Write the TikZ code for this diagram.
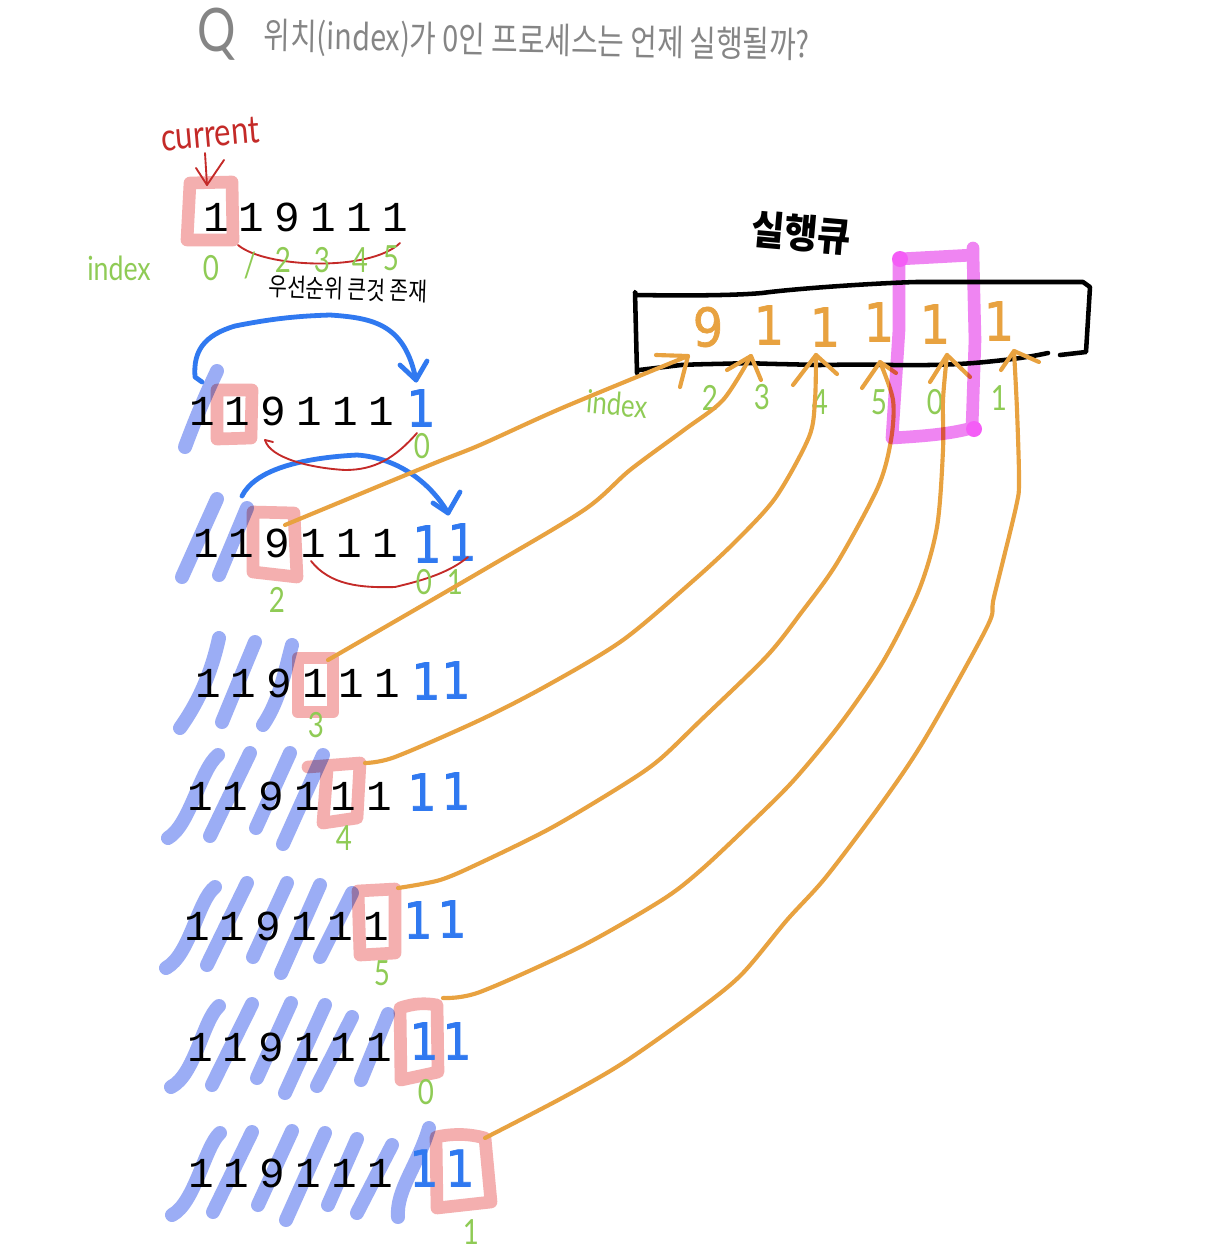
\documentclass[tikz,border=0pt]{standalone}
\usepackage{fontspec}
\setmainfont{Liberation Sans}
\newfontfamily\krf{Noto Sans CJK KR}[FakeStretch=0.8]
\newfontfamily\krb{Noto Sans CJK KR}[FakeStretch=0.9]
\newfontfamily\monof{Liberation Mono}
\newfontfamily\handf{DejaVu Sans}[FakeBold=1.2,FakeStretch=0.9]
\newfontfamily\thinf{Lato}[FakeStretch=0.8]
\definecolor{cstroke}{HTML}{9BADF5}
\definecolor{cbox}{HTML}{F4AFAF}
\definecolor{corange}{HTML}{E8A240}
\definecolor{cblue}{HTML}{3079F0}
\definecolor{cgreen}{HTML}{8FCB55}
\definecolor{cred}{HTML}{C42A28}
\definecolor{cmag}{HTML}{EF85F2}
\definecolor{cgray}{HTML}{858585}
\tikzset{
  blk/.style={font=\monof\fontsize{32}{32}\selectfont,text=black,inner sep=0pt},
  blu/.style={font=\handf\fontsize{38}{38}\selectfont,text=cblue,inner sep=0pt},
  org/.style={font=\handf\fontsize{40}{40}\selectfont,text=corange,inner sep=0pt},
  grn/.style={font=\thinf\fontsize{26}{26}\selectfont,text=cgreen,inner sep=0pt},
  grnw/.style={font=\thinf\fontsize{25}{25}\selectfont,text=cgreen,inner sep=0pt},
  slash/.style={draw=cstroke,line width=10.5pt,line cap=round,line join=round},
  hbox/.style={draw=cbox,line width=9.5pt,line cap=round,line join=round},
  qline/.style={draw=black,line width=3.4pt,line cap=round,line join=round},
  magline/.style={draw=cmag,line width=9.5pt,line cap=round,line join=round},
  oline/.style={draw=corange,line width=3.1pt,line cap=round,line join=round},
  bline/.style={draw=cblue,line width=3.6pt,line cap=round,line join=round},
  rline/.style={draw=cred,line width=1.4pt,line cap=round,line join=round},
}
\newcommand{\digitrow}[3]{%
  \foreach \d [count=\i from 0] in {1,1,9,1,1,1}{%
    \node[blk] (#1d\i) at ({#2+\i*35.8},#3) {\d};
  }%
}
\begin{document}
\begin{tikzpicture}[x=0.75pt,y=-0.75pt]
\path[use as bounding box,fill=white] (0,0) rectangle (1215,1258);

% connector end points
\coordinate (s2) at (285,525);
\coordinate (s3) at (328,660);
\coordinate (s4) at (365,763);
\coordinate (s5) at (398,888);
\coordinate (s6) at (443,998);
\coordinate (s7) at (485,1138);
\coordinate (t2) at (688,356);
\coordinate (t3) at (751,356);
\coordinate (t4) at (816,355);
\coordinate (t5) at (880,362);
\coordinate (t0) at (947,355);
\coordinate (t1) at (1014,351);

\begin{scope}[blend mode=multiply]
% crossed-out strokes
\draw[slash] (185,447) .. controls (198,412) and (208,390) .. (217,371);
\draw[slash] (182,577) -- (217,499);
\draw[slash] (219,575) -- (247,508);
\draw[slash] (180,728) .. controls (200,700) and (212,670) .. (219,638);
\draw[slash] (222,722) -- (255,642);
\draw[slash] (263,725) .. controls (280,700) and (285,670) .. (292,645);
\draw[slash] (168,838) .. controls (190,825) and (200,770) .. (218,755);
\draw[slash] (210,836) -- (250,753);
\draw[slash] (256,828) -- (290,753);
\draw[slash] (283,844) -- (323,755);
\draw[slash] (166,968) .. controls (190,955) and (198,900) .. (215,887);
\draw[slash] (207,965) -- (247,883);
\draw[slash] (253,957) -- (287,883);
\draw[slash] (281,973) -- (320,885);
\draw[slash] (320,957) -- (352,893);
\draw[slash] (171,1087) .. controls (195,1075) and (203,1020) .. (219,1006);
\draw[slash] (212,1085) -- (252,1004);
\draw[slash] (257,1078) -- (291,1003);
\draw[slash] (285,1093) -- (325,1005);
\draw[slash] (317,1086) -- (352,1017);
\draw[slash] (361,1080) -- (388,1014);
\draw[slash] (172,1215) .. controls (195,1203) and (205,1146) .. (220,1133);
\draw[slash] (213,1212) -- (252,1132);
\draw[slash] (258,1205) -- (292,1131);
\draw[slash] (286,1220) -- (325,1133);
\draw[slash] (328,1205) -- (357,1139);
\draw[slash] (357,1213) -- (392,1145);
\draw[slash] (398,1217) .. controls (396,1190) and (418,1165) .. (429,1128);
% highlight boxes
\draw[hbox] (190,183) -- (232,182) -- (233,240) -- (187,240) -- cycle;
\draw[hbox] (217,390) -- (252,390) -- (251,438) -- (217,439) -- cycle;
\draw[hbox] (253,512) -- (294,513) -- (297,577) -- (253,572) -- cycle;
\draw[hbox] (298,658) -- (333,658) -- (333,712) -- (298,712) -- cycle;
\draw[hbox] (308,767) -- (360,763) -- (357,818) -- (323,823) -- (327,770);
\draw[hbox] (358,891) -- (395,889) -- (395,953) -- (360,955) -- cycle;
\draw[hbox] (400,1008) .. controls (415,1003) and (425,1003) .. (437,1005) -- (438,1072) -- (401,1080) -- cycle;
\draw[hbox] (436,1137) .. controls (455,1133) and (470,1134) .. (485,1138) -- (491,1202) -- (437,1208) -- cycle;
\end{scope}

% process rows
\digitrow{ra}{216}{217}
\digitrow{rb}{202}{411}
\digitrow{rc}{206}{543}
\digitrow{rd}{208}{683}
\digitrow{re}{200}{796}
\digitrow{rf}{197}{926}
\digitrow{rg}{200}{1047}
\digitrow{rh}{201}{1173}

% moved processes
\node[blu] (rbb0) at (421,408) {1};
\node[blu] (rcb0) at (427,544) {1};
\node[blu] (rcb1) at (462,542) {1};
\node[blu] (rdb0) at (426,681) {1};
\node[blu] (rdb1) at (456,680) {1};
\node[blu] (reb0) at (422,792) {1};
\node[blu] (reb1) at (456,791) {1};
\node[blu] (rfb0) at (418,920) {1};
\node[blu] (rfb1) at (452,919) {1};
\node[blu] (rgb0) at (424,1041) {1};
\node[blu] (rgb1) at (457,1041) {1};
\node[blu] (rhb0) at (424,1168) {1};
\node[blu] (rhb1) at (460,1168) {1};

% blue arcs
\draw[bline] (202,382) -- (195,377) .. controls (193,350) and (205,335) .. (235,326) .. controls (275,318) and (300,316) .. (330,315) .. controls (375,318) and (405,325) .. (416,380);
\draw[bline] (400,365) -- (416,380) -- (427,361);
\draw[bline] (242,496) .. controls (255,470) and (300,458) .. (357,455) .. controls (400,458) and (432,485) .. (448,513);
\draw[bline] (433,503) -- (448,513) -- (460,492);

% red curves
\draw[rline] (238,245) .. controls (265,268) and (370,272) .. (400,243);
\draw[rline] (417,433) .. controls (395,458) and (375,470) .. (345,470) .. controls (310,468) and (270,458) .. (265,440);
\draw[rline] (265,440) -- (273,442);
\draw[rline] (311,561) .. controls (330,585) and (360,588) .. (395,587) .. controls (425,580) and (450,572) .. (468,557);
\node[font=\thinf\fontsize{29}{29}\selectfont,text=cred,inner sep=0pt,rotate=5] (cur) at (210,134) {current};
\draw[rline] (205,153) -- (207,185);
\draw[rline] (196,168) -- (207,185) -- (224,160);

% green labels, first row
\node[grnw] (idxa) at (119,268) {index};
\node[grn] (la0) at (211,268) {0};
\node[grn] (la1) at (250,266) {/};
\node[grn] (la2) at (283,260) {2};
\node[grn] (la3) at (322,260) {3};
\node[grn] (la4) at (360,260) {4};
\node[grn] (la5) at (391,258) {5};
\node[font=\krf\fontsize{19}{19}\selectfont,text=black,inner sep=0pt,rotate=-2] (prio) at (348,289) {우선순위 큰것 존재};
% green labels, other rows
\node[grn] (lb0) at (422,446) {0};
\node[grn] (lc2) at (277,600) {2};
\node[grn] (lc0) at (424,582) {0};
\node[grn] (lc1) at (455,582) {1};
\node[grn] (ld3) at (316,725) {3};
\node[grn] (le4) at (344,838) {4};
\node[grn] (lf5) at (382,973) {5};
\node[grn] (lg0) at (426,1092) {0};
\node[grn] (lh1) at (471,1232) {1};

% title texts
\node[font=\thinf\fontsize{45}{45}\selectfont,text=cgray,inner sep=0pt] (q) at (217,34) {Q};
\node[font=\krf\fontsize{27}{27}\selectfont,text=cgray,inner sep=0pt,rotate=-1] (ttl) at (537,42) {위치(index)가 0인 프로세스는 언제 실행될까?};
\node[font=\krb\bfseries\fontsize{30}{30}\selectfont,text=black,inner sep=0pt,rotate=-5] (qname) at (801,233) {실행큐};

% queue box
\draw[qline] (637,373) -- (635,292) -- (636,295) .. controls (700,296) and (740,295) .. (762,293) .. controls (800,288) and (880,283) .. (916,282) -- (1083,282) -- (1090,287) -- (1086,352) -- (1060,355);
\draw[qline] (1048,353) .. controls (1025,358) and (1005,360) .. (985,362) .. controls (945,366) and (905,365) .. (891,365) .. controls (855,364) and (835,365) .. (816,365) .. controls (785,364) and (765,364) .. (749,363) .. controls (722,364) and (700,364) .. (681,365) -- (639,370);

% queue contents
\node[org] (q9) at (708,327) {9};
\node[org] (q1a) at (769,325) {1};
\node[org] (q1b) at (825,327) {1};
\node[org] (q1c) at (879,322) {1};
\node[org] (q1d) at (935,324) {1};
\node[org] (q1e) at (999,321) {1};

\node[font=\thinf\fontsize{24}{24}\selectfont,text=cgreen,inner sep=0pt,rotate=-5] (idxb) at (617,404) {index};
\node[grn] (qi2) at (710,398) {2};
\node[grn] (qi3) at (762,397) {3};
\node[grn] (qi4) at (820,402) {4};
\node[grn] (qi5) at (879,402) {5};
\node[grn] (qi0) at (935,402) {0};
\node[grn] (qi1) at (999,398) {1};

% orange connectors
\draw[oline] plot[smooth,tension=.5] coordinates {(s2) (430,465) (480,445) (562,408) (t2)};
\draw[oline] (656,355) -- (t2) -- (680,387);
\draw[oline] plot[smooth,tension=.5] coordinates {(s3) (480,572) (584,510) (630,470) (684,430) (723,400) (t3)};
\draw[oline] (727,370) -- (t3) -- (761,380);
\draw[oline] plot[smooth,tension=.5] coordinates {(s4) (395,757) (480,720) (548,685) (623,640) (694,580) (737,540) (776,497) (809,437) (815,400) (t4)};
\draw[oline] (793,385) -- (t4) -- (837,374);
\draw[oline] plot[smooth,tension=.5] coordinates {(s5) (440,880) (480,863) (551,828) (623,785) (659,760) (701,720) (766,657) (801,613) (837,563) (878,487) (891,440) (893,400) (t5)};
\draw[oline] (862,388) -- (t5) -- (896,373);
\draw[oline] plot[smooth,tension=.5] coordinates {(s6) (480,992) (580,947) (662,900) (701,870) (751,823) (794,780) (841,723) (884,660) (919,590) (937,527) (943,450) (943,400) (t0)};
\draw[oline] (930,382) -- (t0) -- (970,377);
\draw[oline] plot[smooth,tension=.5] coordinates {(s7) (562,1098) (623,1063) (694,1013) (741,975) (787,920) (826,877) (884,800) (926,737) (987,627) (994,597) (1016,507) (1019,480) (1017,410) (t1)};
\draw[oline] (1001,370) -- (t1) -- (1039,362);

% magenta highlight
\begin{scope}[blend mode=multiply]
\draw[magline] (973,248) -- (973,255) -- (899,259) -- (899,330) -- (892,438) .. controls (925,436) and (950,434) .. (972,428) -- (975,340) -- (973,255);
\end{scope}
\fill[cmag!70!magenta] (900,259) circle (8);
\fill[cmag!70!magenta] (974,429) circle (8);
\end{tikzpicture}
\end{document}
